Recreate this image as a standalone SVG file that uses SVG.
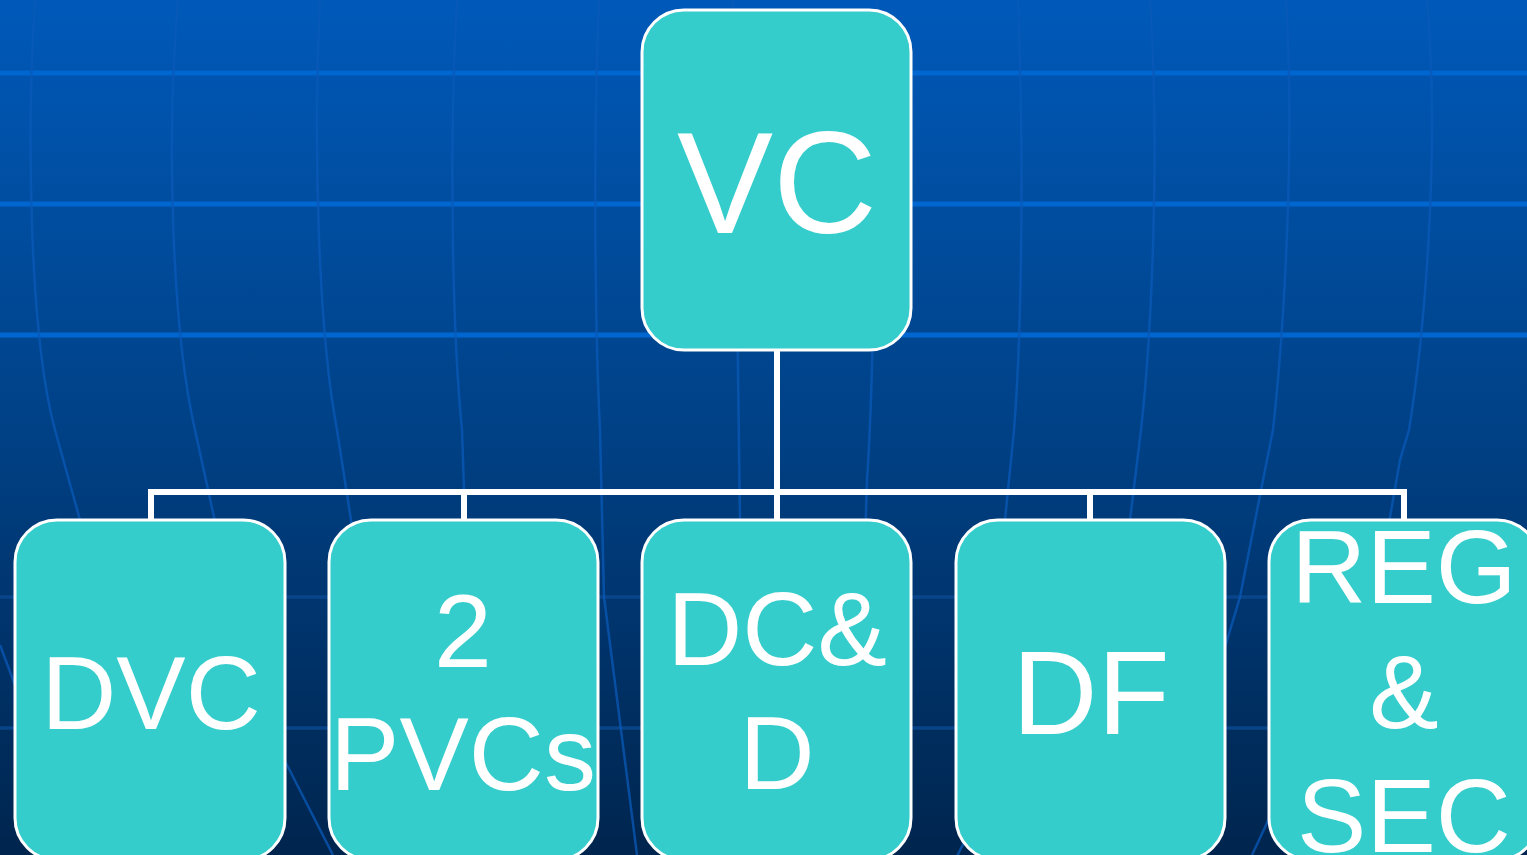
<svg xmlns="http://www.w3.org/2000/svg" width="1527" height="855" viewBox="0 0 1527 855">
<defs>
<linearGradient id="bg" x1="0" y1="0" x2="0" y2="1">
<stop offset="0" stop-color="#0059b9"/>
<stop offset="0.5" stop-color="#004186"/>
<stop offset="1" stop-color="#00254e"/>
</linearGradient>
<style>
.hl{stroke:#0066d0;stroke-width:5;fill:none}
.hf{stroke:#0b4a92;stroke-width:3.5;fill:none;opacity:0.8}
.mer{stroke:#0a5ab8;stroke-width:2.5;fill:none;opacity:0.75}
.box{fill:#35cccc;stroke:#ffffff;stroke-width:3}
.lbl{fill:#ffffff;font-family:"Liberation Sans",Arial,sans-serif;text-anchor:middle}
.con{stroke:#ffffff;stroke-width:6;fill:none;stroke-linejoin:miter}
</style>
</defs>
<rect x="0" y="0" width="1527" height="855" fill="url(#bg)"/>
<g id="background-grid">
<line class="hl" x1="0" y1="73" x2="1527" y2="73"/>
<line class="hl" x1="0" y1="204" x2="1527" y2="204"/>
<line class="hl" x1="0" y1="335" x2="1527" y2="335"/>
<line class="hf" x1="0" y1="597" x2="1527" y2="597"/>
<line class="hf" x1="0" y1="728" x2="1527" y2="728"/>
<path class="mer" d="M35,0 C27,120 28,330 55,430 L80,520 C100,600 120,700 150,860"/>
<path class="mer" d="M0,645 L80,860"/>
<path class="mer" d="M178,0 C166,140 172,330 195,430 L214,517 L286,763 L333,855"/>
<path class="mer" d="M320,0 C313,140 318,330 337,430 L351,520 C360,600 380,720 400,860"/>
<path class="mer" d="M457,0 C449,140 452,330 462,430 L465,520 C470,650 480,760 490,860"/>
<path class="mer" d="M599,0 C593,140 595,330 600,430 L604,597 L637,855"/>
<path class="mer" d="M733,0 C735,200 737,380 740,520 L745,860"/>
<path class="mer" d="M877,0 C876,200 874,380 867,480 L855,860"/>
<path class="mer" d="M1018,0 C1024,150 1022,330 1014,430 L1005,520 L990,860"/>
<path class="mer" d="M1150,0 C1160,150 1152,330 1141,430 L1130,520 L955,860"/>
<path class="mer" d="M1286,0 C1295,150 1284,330 1273,430 L1267,460 L1240,597 L1225,647 L1150,860"/>
<path class="mer" d="M1427,0 C1440,150 1425,330 1409,430 L1400,460 L1390,517 L1267,823 L1252,855"/>
</g>
<g id="connectors">
<line class="con" x1="777" y1="350" x2="777" y2="492"/>
<path class="con" d="M151,520 V492 H1404 V520"/>
<line class="con" x1="464" y1="492" x2="464" y2="520"/>
<line class="con" x1="777" y1="492" x2="777" y2="520"/>
<line class="con" x1="1090" y1="492" x2="1090" y2="520"/>
</g>
<g id="node-vc">
<rect class="box" x="642" y="10" width="269" height="340" rx="42" ry="42"/>
<text class="lbl" x="777" y="233" font-size="144">VC</text>
</g>
<g id="node-dvc">
<rect class="box" x="15" y="520" width="270" height="340" rx="42" ry="42"/>
<text class="lbl" x="151" y="729" font-size="104">DVC</text>
</g>
<g id="node-pvcs">
<rect class="box" x="329" y="520" width="269" height="340" rx="42" ry="42"/>
<text class="lbl" x="463" y="667" font-size="104">2</text>
<text class="lbl" x="463" y="790" font-size="104">PVCs</text>
</g>
<g id="node-dcd">
<rect class="box" x="642" y="520" width="269" height="340" rx="42" ry="42"/>
<text class="lbl" x="777" y="665" font-size="104">DC&amp;</text>
<text class="lbl" x="777" y="789" font-size="104">D</text>
</g>
<g id="node-df">
<rect class="box" x="956" y="520" width="269" height="340" rx="42" ry="42"/>
<text class="lbl" x="1091" y="734" font-size="118">DF</text>
</g>
<g id="node-regsec">
<rect class="box" x="1269" y="520" width="270" height="340" rx="42" ry="42"/>
<text class="lbl" x="1404" y="603" font-size="104">REG</text>
<text class="lbl" x="1404" y="728" font-size="104">&amp;</text>
<text class="lbl" x="1404" y="852" font-size="104">SEC</text>
</g>
</svg>
